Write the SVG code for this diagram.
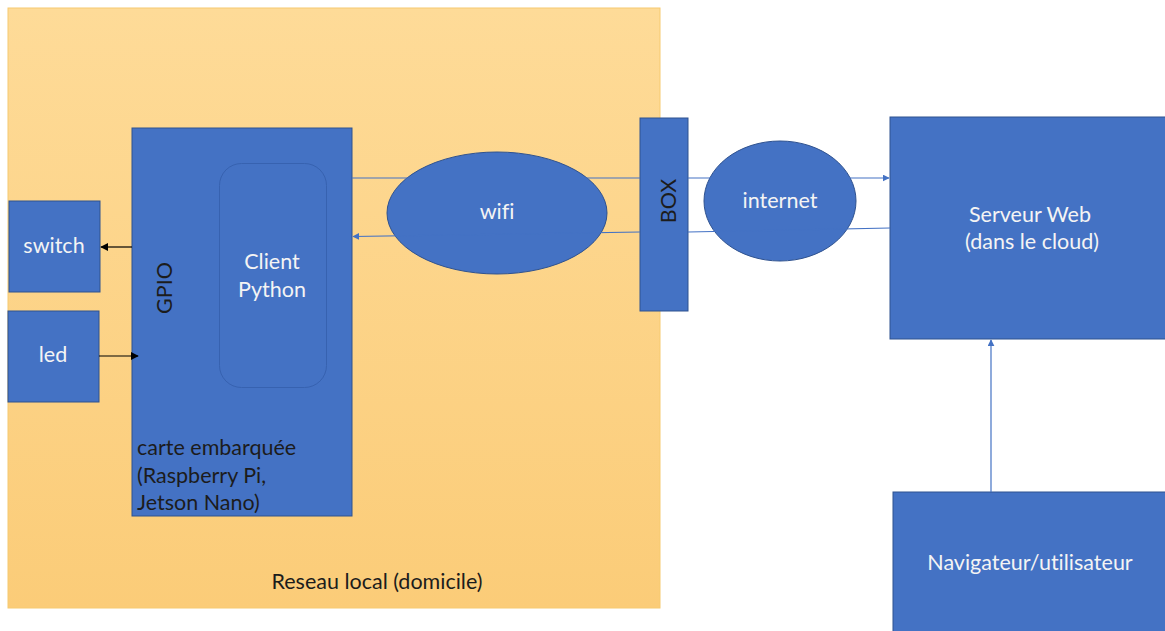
<svg xmlns="http://www.w3.org/2000/svg" width="1165" height="631" viewBox="0 0 1165 631">
<defs>
<linearGradient id="og" x1="0" y1="0" x2="0" y2="1">
<stop offset="0" stop-color="#FEDB98"/>
<stop offset="1" stop-color="#FBCC78"/>
</linearGradient>
<marker id="ab" viewBox="0 0 10 10" refX="9" refY="5" markerWidth="7" markerHeight="7" markerUnits="userSpaceOnUse" orient="auto"><path d="M0,0 L10,5 L0,10 z" fill="#4472C4"/></marker>
<marker id="ak" viewBox="0 0 10 10" refX="9" refY="5" markerWidth="8" markerHeight="8" markerUnits="userSpaceOnUse" orient="auto"><path d="M0,0 L10,5 L0,10 z" fill="#000"/></marker>
<style>
.b{fill:#4472C4;stroke:#2F528F;stroke-width:1}
.w{font-family:Lato,"Open Sans","Liberation Sans",sans-serif;font-size:21.5px;fill:#F4F4F4;text-anchor:middle;font-variant-ligatures:none}
.d{font-family:Lato,"Open Sans","Liberation Sans",sans-serif;font-size:21.5px;fill:#1C1C1C;font-variant-ligatures:none}
.c{stroke:#4472C4;stroke-width:1.2;fill:none}
.k{stroke:#000;stroke-width:1.2;fill:none}
</style>
</defs>
<rect width="1165" height="631" fill="#fff"/>
<g id="reseau">
<rect x="8" y="8" width="652" height="600" fill="url(#og)" stroke="#F6CA70" stroke-width="1"/>
<text class="d" x="377" y="589" text-anchor="middle">Reseau local (domicile)</text>
</g>
<g id="carte">
<rect class="b" x="132" y="128" width="220" height="388"/>
<text class="d" x="137" y="455">carte embarquée</text>
<text class="d" x="137" y="483">(Raspberry Pi,</text>
<text class="d" x="137" y="510">Jetson Nano)</text>
<text class="d" transform="translate(172,288) rotate(-90)" text-anchor="middle">GPIO</text>
</g>
<g id="client">
<rect x="219.5" y="163.5" width="107" height="224" rx="22" fill="#4472C4" stroke="#3762B0" stroke-width="1"/>
<text class="w" x="272" y="269">Client</text>
<text class="w" x="272" y="297">Python</text>
</g>
<g id="switch">
<rect class="b" x="9" y="201" width="91" height="91"/>
<text class="w" x="54" y="253">switch</text>
</g>
<g id="led">
<rect class="b" x="8" y="311" width="91" height="91"/>
<text class="w" x="53" y="362">led</text>
</g>
<g id="wifi">
<ellipse class="b" cx="497" cy="213" rx="110" ry="61"/>
<text class="w" x="497" y="219">wifi</text>
</g>
<g id="box">
<rect class="b" x="640" y="118" width="48" height="193"/>
<text class="d" transform="translate(676,201) rotate(-90)" text-anchor="middle">BOX</text>
</g>
<g id="internet">
<ellipse class="b" cx="780" cy="201" rx="76" ry="60"/>
<text class="w" x="780" y="208">internet</text>
</g>
<g id="serveur">
<rect class="b" x="890" y="117" width="280" height="222"/>
<text class="w" x="1030" y="222">Serveur Web</text>
<text class="w" x="1032" y="249">(dans le cloud)</text>
</g>
<g id="navigateur">
<rect class="b" x="893" y="492" width="280" height="145"/>
<text class="w" x="1030" y="570">Navigateur/utilisateur</text>
</g>
<g id="connectors">
<line class="c" x1="352" y1="178" x2="640" y2="178"/>
<line class="c" x1="688" y1="178" x2="889" y2="178" marker-end="url(#ab)"/>
<line class="c" x1="640" y1="232" x2="353" y2="236.5" marker-end="url(#ab)"/>
<line class="c" x1="890" y1="228" x2="688" y2="232"/>
<line class="c" x1="991" y1="492" x2="991" y2="340" marker-end="url(#ab)"/>
<line class="k" x1="132" y1="247" x2="101" y2="247" marker-end="url(#ak)"/>
<line class="k" x1="99" y1="356" x2="138" y2="356" marker-end="url(#ak)"/>
</g>
</svg>
